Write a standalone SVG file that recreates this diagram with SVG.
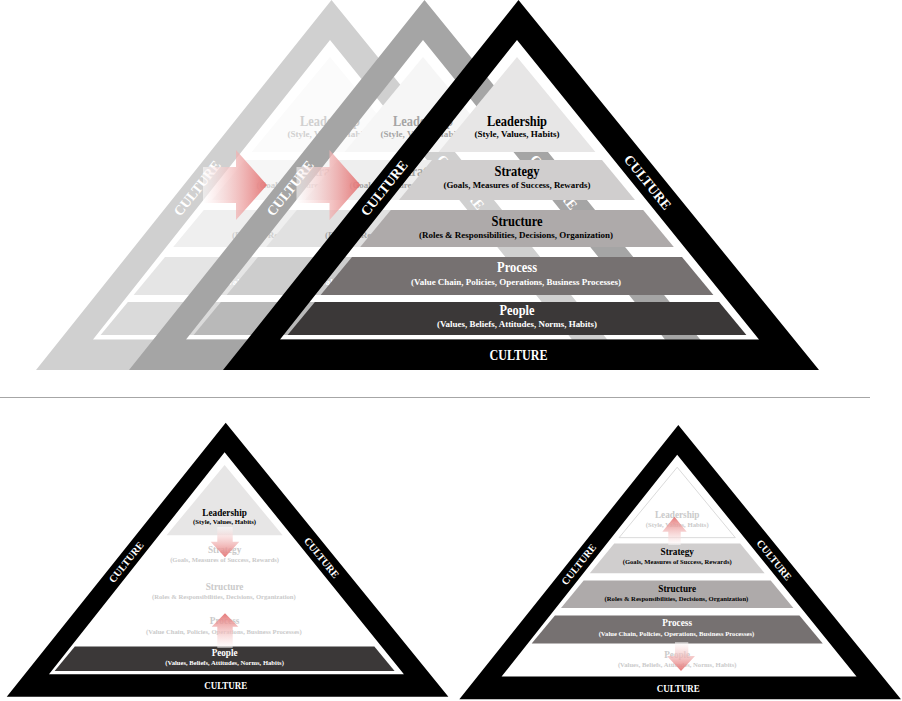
<svg xmlns="http://www.w3.org/2000/svg" width="902" height="701" viewBox="0 0 902 701">
<defs>
<style>
.f{font-family:"Liberation Serif","Times New Roman",serif;font-weight:bold;text-anchor:middle}
.t{font-size:15px}
.s{font-size:9px}
.c{font-size:14px;fill:#fff}
.w{fill:#fff}
.band{fill-rule:evenodd}
.main .band,.ll .band,.lr .band{fill:#000}
.main .l1{fill:#e7e6e6}.main .l2{fill:#d0cece}.main .l3{fill:#aeaaaa}.main .l4{fill:#767171}.main .l5{fill:#3b3838}
.main .dk{fill:#000}
.mid .band{fill:#a5a5a5}
.mid .l1{fill:#f6f6f6}.mid .l2{fill:#eeeeee}.mid .l3{fill:#e1e1e1}.mid .l4{fill:#cdcdcd}.mid .l5{fill:#b9b9b9}
.mid .dk{fill:#a5a5a5}
.light .band{fill:#d0d0d0}
.light .l1{fill:#fbfbfb}.light .l2{fill:#f6f6f6}.light .l3{fill:#efefef}.light .l4{fill:#e5e5e5}.light .l5{fill:#dadada}
.light .dk{fill:#d0d0d0}
.ll .l1{fill:#e7e6e6}.ll .l5{fill:#3b3838}.ll .dk{fill:#000}
.lr .l1{fill:#fff;stroke:#d9d9d9;stroke-width:1.3}.lr .l2{fill:#d0cece}.lr .l3{fill:#aeaaaa}.lr .l4{fill:#767171}
.lr .dk{fill:#000}
.fd{fill:#cacaca}
.none{fill:none}
</style>
<linearGradient id="gh" x1="0" y1="0" x2="1" y2="0">
<stop offset="0" stop-color="#ffffff" stop-opacity="0.55"/>
<stop offset="1" stop-color="#e36f6f" stop-opacity="0.92"/>
</linearGradient>
<linearGradient id="gd" x1="0" y1="0" x2="0" y2="1">
<stop offset="0" stop-color="#ffffff" stop-opacity="0.5"/>
<stop offset="1" stop-color="#e36f6f" stop-opacity="0.92"/>
</linearGradient>
<linearGradient id="gu" x1="0" y1="1" x2="0" y2="0">
<stop offset="0" stop-color="#ffffff" stop-opacity="0.5"/>
<stop offset="1" stop-color="#e36f6f" stop-opacity="0.92"/>
</linearGradient>
</defs>
<rect width="902" height="701" fill="#fff"/>

<!-- back light pyramid -->
<g id="pyramid-light" class="light" transform="translate(-187,0)">
<path class="band" d="M518.5,0 L819,370 L223,370 Z M517,40 L280,339.5 L759,339.5 Z"/>
<g id="light-leadership"><path class="l1" d="M517,57 L595.4,152 L438.6,152 Z"/>
<text class="f t dk" x="517" y="126" textLength="60" lengthAdjust="spacingAndGlyphs">Leadership</text>
<text class="f s dk" x="517" y="137" textLength="85" lengthAdjust="spacingAndGlyphs">(Style, Values, Habits)</text></g>
<g id="light-strategy"><path class="l2" d="M432,160 L602,160 L635,200 L399,200 Z"/>
<text class="f t dk" x="517" y="175.5" textLength="45" lengthAdjust="spacingAndGlyphs">Strategy</text>
<text class="f s dk" x="517" y="187.5" textLength="147" lengthAdjust="spacingAndGlyphs">(Goals, Measures of Success, Rewards)</text></g>
<g id="light-structure"><path class="l3" d="M390.8,210 L643.2,210 L673.8,247 L360.2,247 Z"/>
<text class="f t dk" x="517" y="226" textLength="51" lengthAdjust="spacingAndGlyphs">Structure</text>
<text class="f s dk" x="516" y="238" textLength="194" lengthAdjust="spacingAndGlyphs">(Roles &amp; Responsibilities, Decisions, Organization)</text></g>
<g id="light-process"><path class="l4" d="M352,257 L682,257 L713.4,295 L320.6,295 Z"/>
<text class="f s w" x="516" y="285" textLength="210" lengthAdjust="spacingAndGlyphs">(Value Chain, Policies, Operations, Business Processes)</text></g>
<g id="light-people"><path class="l5" d="M314.9,302 L719.1,302 L746.4,335 L287.6,335 Z"/></g>
<text class="f c" transform="translate(384,188) rotate(-51.4)" x="0" y="5" textLength="66" lengthAdjust="spacingAndGlyphs">CULTURE</text>
<text class="f c" transform="translate(648,182) rotate(51)" x="0" y="5" textLength="66" lengthAdjust="spacingAndGlyphs">CULTURE</text>
</g>

<!-- back mid pyramid -->
<g id="pyramid-mid" class="mid" transform="translate(-94,0)">
<path class="band" d="M518.5,0 L819,370 L223,370 Z M517,40 L280,339.5 L759,339.5 Z"/>
<g id="mid-leadership"><path class="l1" d="M517,57 L595.4,152 L438.6,152 Z"/>
<text class="f t dk" x="517" y="126" textLength="60" lengthAdjust="spacingAndGlyphs">Leadership</text>
<text class="f s dk" x="517" y="137" textLength="85" lengthAdjust="spacingAndGlyphs">(Style, Values, Habits)</text></g>
<g id="mid-strategy"><path class="l2" d="M432,160 L602,160 L635,200 L399,200 Z"/>
<text class="f t dk" x="517" y="175.5" textLength="45" lengthAdjust="spacingAndGlyphs">Strategy</text>
<text class="f s dk" x="517" y="187.5" textLength="147" lengthAdjust="spacingAndGlyphs">(Goals, Measures of Success, Rewards)</text></g>
<g id="mid-structure"><path class="l3" d="M390.8,210 L643.2,210 L673.8,247 L360.2,247 Z"/>
<text class="f t dk" x="517" y="226" textLength="51" lengthAdjust="spacingAndGlyphs">Structure</text>
<text class="f s dk" x="516" y="238" textLength="194" lengthAdjust="spacingAndGlyphs">(Roles &amp; Responsibilities, Decisions, Organization)</text></g>
<g id="mid-process"><path class="l4" d="M352,257 L682,257 L713.4,295 L320.6,295 Z"/>
<text class="f s w" x="516" y="285" textLength="210" lengthAdjust="spacingAndGlyphs">(Value Chain, Policies, Operations, Business Processes)</text></g>
<g id="mid-people"><path class="l5" d="M314.9,302 L719.1,302 L746.4,335 L287.6,335 Z"/></g>
<text class="f c" transform="translate(384,188) rotate(-51.4)" x="0" y="5" textLength="66" lengthAdjust="spacingAndGlyphs">CULTURE</text>
<text class="f c" transform="translate(648,182) rotate(51)" x="0" y="5" textLength="66" lengthAdjust="spacingAndGlyphs">CULTURE</text>
</g>

<!-- main pyramid -->
<g id="pyramid-main" class="main">
<path class="band" d="M518.5,0 L819,370 L223,370 Z M517,40 L280,339.5 L759,339.5 Z"/>
<g id="main-leadership"><path class="l1" d="M517,57 L595.4,152 L438.6,152 Z"/>
<text class="f t dk" x="517" y="126" textLength="60" lengthAdjust="spacingAndGlyphs">Leadership</text>
<text class="f s dk" x="517" y="137" textLength="85" lengthAdjust="spacingAndGlyphs">(Style, Values, Habits)</text></g>
<g id="main-strategy"><path class="l2" d="M432,160 L602,160 L635,200 L399,200 Z"/>
<text class="f t dk" x="517" y="175.5" textLength="45" lengthAdjust="spacingAndGlyphs">Strategy</text>
<text class="f s dk" x="517" y="187.5" textLength="147" lengthAdjust="spacingAndGlyphs">(Goals, Measures of Success, Rewards)</text></g>
<g id="main-structure"><path class="l3" d="M390.8,210 L643.2,210 L673.8,247 L360.2,247 Z"/>
<text class="f t dk" x="517" y="226" textLength="51" lengthAdjust="spacingAndGlyphs">Structure</text>
<text class="f s dk" x="516" y="238" textLength="194" lengthAdjust="spacingAndGlyphs">(Roles &amp; Responsibilities, Decisions, Organization)</text></g>
<g id="main-process"><path class="l4" d="M352,257 L682,257 L713.4,295 L320.6,295 Z"/>
<text class="f t w" x="517" y="271.5" textLength="40" lengthAdjust="spacingAndGlyphs">Process</text>
<text class="f s w" x="516" y="285" textLength="210" lengthAdjust="spacingAndGlyphs">(Value Chain, Policies, Operations, Business Processes)</text></g>
<g id="main-people"><path class="l5" d="M314.9,302 L719.1,302 L746.4,335 L287.6,335 Z"/>
<text class="f t w" x="517" y="315" textLength="35" lengthAdjust="spacingAndGlyphs">People</text>
<text class="f s w" x="517" y="327" textLength="160" lengthAdjust="spacingAndGlyphs">(Values, Beliefs, Attitudes, Norms, Habits)</text></g>
<text class="f c" x="518.5" y="360" textLength="58" lengthAdjust="spacingAndGlyphs">CULTURE</text>
<text class="f c" transform="translate(384,188) rotate(-51.4)" x="0" y="5" textLength="66" lengthAdjust="spacingAndGlyphs">CULTURE</text>
<text class="f c" transform="translate(648,182) rotate(51)" x="0" y="5" textLength="66" lengthAdjust="spacingAndGlyphs">CULTURE</text>
</g>

<line x1="0" y1="397.5" x2="870" y2="397.5" stroke="#a6a6a6" stroke-width="1"/>

<!-- lower left pyramid -->
<g id="pyramid-lower-left" class="ll" transform="translate(-158.5,422.7) scale(0.741)">
<path class="band" d="M518.5,0 L819,370 L223,370 Z M517,40 L280,339.5 L759,339.5 Z"/>
<g id="ll-leadership"><path class="l1" d="M517,57 L595.4,152 L438.6,152 Z"/>
<text class="f t dk" x="517" y="126" textLength="60" lengthAdjust="spacingAndGlyphs">Leadership</text>
<text class="f s dk" x="517" y="137" textLength="85" lengthAdjust="spacingAndGlyphs">(Style, Values, Habits)</text></g>
<g id="ll-strategy">
<text class="f t fd" x="517" y="175.5" textLength="45" lengthAdjust="spacingAndGlyphs">Strategy</text>
<text class="f s fd" x="517" y="187.5" textLength="147" lengthAdjust="spacingAndGlyphs">(Goals, Measures of Success, Rewards)</text></g>
<g id="ll-structure">
<text class="f t fd" x="517" y="226" textLength="51" lengthAdjust="spacingAndGlyphs">Structure</text>
<text class="f s fd" x="516" y="238" textLength="194" lengthAdjust="spacingAndGlyphs">(Roles &amp; Responsibilities, Decisions, Organization)</text></g>
<g id="ll-process">
<text class="f t fd" x="517" y="271.5" textLength="40" lengthAdjust="spacingAndGlyphs">Process</text>
<text class="f s fd" x="516" y="285" textLength="210" lengthAdjust="spacingAndGlyphs">(Value Chain, Policies, Operations, Business Processes)</text></g>
<g id="ll-people"><path class="l5" d="M314.9,302 L719.1,302 L746.4,335 L287.6,335 Z"/>
<text class="f t w" x="517" y="315" textLength="35" lengthAdjust="spacingAndGlyphs">People</text>
<text class="f s w" x="517" y="327" textLength="160" lengthAdjust="spacingAndGlyphs">(Values, Beliefs, Attitudes, Norms, Habits)</text></g>
<text class="f c" x="518.5" y="360" textLength="58" lengthAdjust="spacingAndGlyphs">CULTURE</text>
<text class="f c" transform="translate(384,188) rotate(-51.4)" x="0" y="5" textLength="66" lengthAdjust="spacingAndGlyphs">CULTURE</text>
<text class="f c" transform="translate(648,182) rotate(51)" x="0" y="5" textLength="66" lengthAdjust="spacingAndGlyphs">CULTURE</text>
</g>

<!-- lower right pyramid -->
<g id="pyramid-lower-right" class="lr" transform="translate(294.1,425) scale(0.741)">
<path class="band" d="M518.5,0 L819,370 L223,370 Z M517,40 L280,339.5 L759,339.5 Z"/>
<g id="lr-leadership"><path class="l1" d="M517,57 L595.4,152 L438.6,152 Z"/>
<text class="f t fd" x="517" y="126" textLength="60" lengthAdjust="spacingAndGlyphs">Leadership</text>
<text class="f s fd" x="517" y="137" textLength="85" lengthAdjust="spacingAndGlyphs">(Style, Values, Habits)</text></g>
<g id="lr-strategy"><path class="l2" d="M432,160 L602,160 L635,200 L399,200 Z"/>
<text class="f t dk" x="517" y="175.5" textLength="45" lengthAdjust="spacingAndGlyphs">Strategy</text>
<text class="f s dk" x="517" y="187.5" textLength="147" lengthAdjust="spacingAndGlyphs">(Goals, Measures of Success, Rewards)</text></g>
<g id="lr-structure"><path class="l3" d="M390.8,210 L643.2,210 L673.8,247 L360.2,247 Z"/>
<text class="f t dk" x="517" y="226" textLength="51" lengthAdjust="spacingAndGlyphs">Structure</text>
<text class="f s dk" x="516" y="238" textLength="194" lengthAdjust="spacingAndGlyphs">(Roles &amp; Responsibilities, Decisions, Organization)</text></g>
<g id="lr-process"><path class="l4" d="M352,257 L682,257 L713.4,295 L320.6,295 Z"/>
<text class="f t w" x="517" y="271.5" textLength="40" lengthAdjust="spacingAndGlyphs">Process</text>
<text class="f s w" x="516" y="285" textLength="210" lengthAdjust="spacingAndGlyphs">(Value Chain, Policies, Operations, Business Processes)</text></g>
<g id="lr-people">
<text class="f t fd" x="517" y="315" textLength="35" lengthAdjust="spacingAndGlyphs">People</text>
<text class="f s fd" x="517" y="327" textLength="160" lengthAdjust="spacingAndGlyphs">(Values, Beliefs, Attitudes, Norms, Habits)</text></g>
<text class="f c" x="518.5" y="360" textLength="58" lengthAdjust="spacingAndGlyphs">CULTURE</text>
<text class="f c" transform="translate(384,188) rotate(-51.4)" x="0" y="5" textLength="66" lengthAdjust="spacingAndGlyphs">CULTURE</text>
<text class="f c" transform="translate(648,182) rotate(51)" x="0" y="5" textLength="66" lengthAdjust="spacingAndGlyphs">CULTURE</text>
</g>

<!-- connectors: red block arrows -->
<g id="connectors">
<path fill="url(#gh)" d="M203,167 L236,167 L236,150 L267,185 L236,220 L236,203 L203,203 Z"/>
<path fill="url(#gh)" d="M296.5,167 L329.5,167 L329.5,150 L360.5,185 L329.5,220 L329.5,203 L296.5,203 Z"/>
<path fill="url(#gd)" d="M217.3,527 L232.7,527 L232.7,541.7 L239.3,541.7 L225,557.3 L210.7,541.7 L217.3,541.7 Z"/>
<path fill="url(#gu)" d="M225,613.3 L238.3,626.7 L232.7,626.7 L232.7,648 L217.3,648 L217.3,626.7 L211.7,626.7 Z"/>
<path fill="url(#gu)" d="M674.5,516.7 L686.7,531.7 L680.7,531.7 L680.7,545 L668.3,545 L668.3,531.7 L662.3,531.7 Z"/>
<path fill="url(#gd)" d="M675,642 L688.3,642 L688.3,656 L695,656 L681,671 L667,656 L675,656 Z"/>
</g>
</svg>
